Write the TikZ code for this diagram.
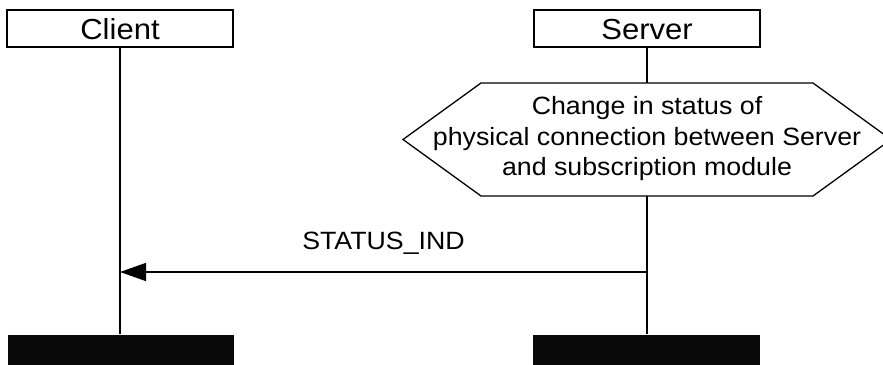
\documentclass[tikz,border=0pt]{standalone}
\usepackage{fontspec}
\setmainfont{Liberation Sans}
\newfontfamily\af[FakeStretch=1.07]{Liberation Sans}
\usetikzlibrary{arrows.meta}
\begin{document}
\begin{tikzpicture}[x=1pt,y=-1pt,line width=1.3pt,
  hdr/.style={draw, rectangle, minimum width=226pt, minimum height=37pt, inner sep=0pt,
    font=\af\fontsize{29}{34}\selectfont, text height=21pt, text depth=0pt},
  endbox/.style={fill=black!96, draw=none, minimum width=226pt, minimum height=36pt, inner sep=0pt},
  msg/.style={-{Triangle[length=26pt,width=18pt]}},
  lbl/.style={font=\af\fontsize{25}{30.5}\selectfont, inner sep=0pt}]
\useasboundingbox (0,0) rectangle (883,364);
% headers
\node[hdr] (client) at (120,28.5) {Client};
\node[hdr] (server) at (647,28.5) {Server};
% end boxes
\node[endbox] (cend) at (121,353) {};
\node[endbox, minimum width=227pt] (send) at (646.5,353) {};
% condition hexagon
\node[lbl, align=center] (cond) at (647,139) {Change in status of\\physical connection between Server\\and subscription module};
\coordinate (hexT) at (647,83);
\coordinate (hexB) at (647,196);
\draw (403,139.5) -- (481,83) -- (hexT) -- (813,83) -- (891,139.5) -- (813,196) -- (hexB) -- (481,196) -- cycle;
% lifelines
\draw (client.south) -- (cend.north -| client.south);
\draw (server.south) -- (hexT);
\draw (hexB) -- (send.north -| server.south);
% message
\coordinate (srvmsg) at (647,272);
\coordinate (climsg) at (120,272);
\draw[msg] (srvmsg) -- (climsg);
\node[lbl, anchor=base] (msglbl) at (383.5,249) {STATUS\_IND};
\end{tikzpicture}
\end{document}
